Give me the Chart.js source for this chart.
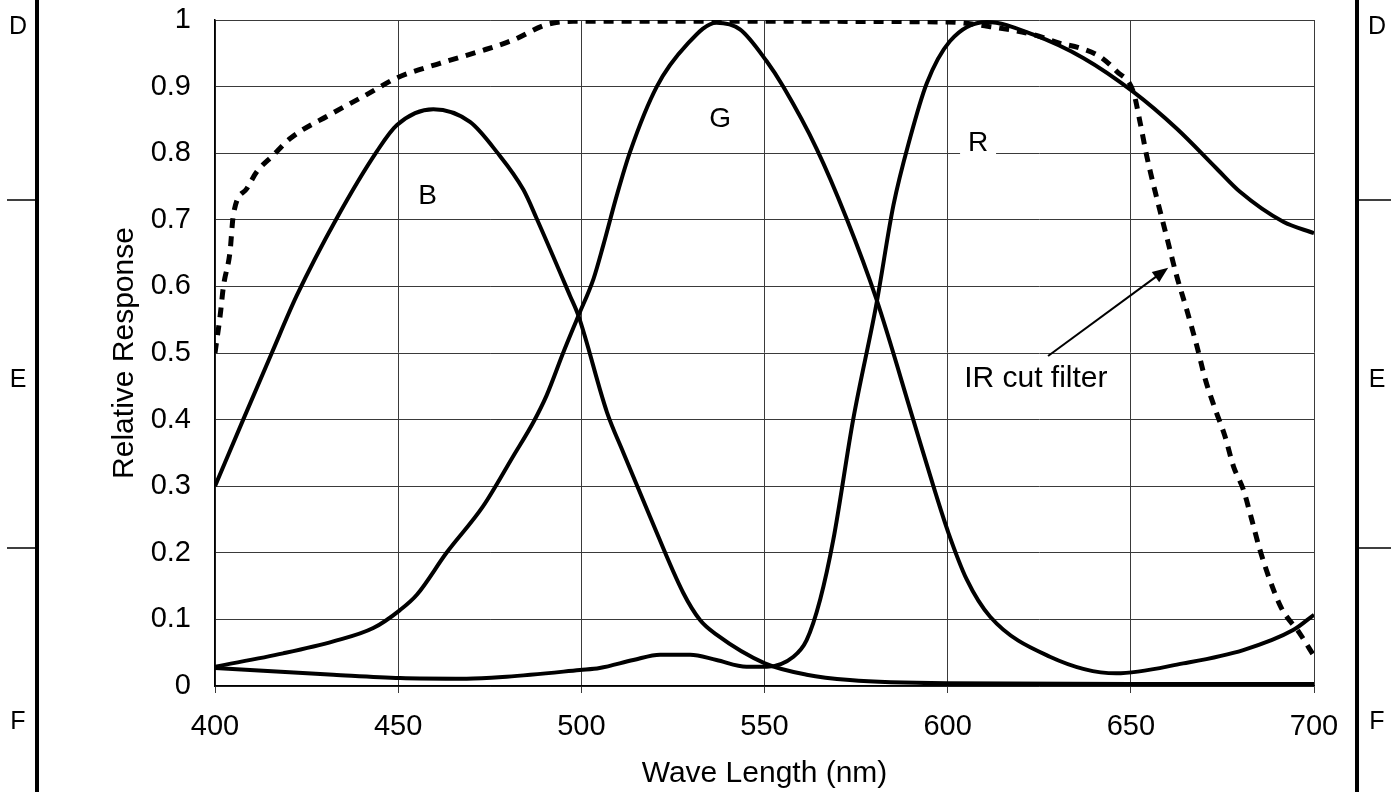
<!DOCTYPE html>
<html>
<head>
<meta charset="utf-8">
<script src="https://cdn.jsdelivr.net/npm/chart.js@4.4.1/dist/chart.umd.min.js"></script>
<style>
    html, body { margin: 0; padding: 0; background: #fff; }
    #contenedor { width: 1400px; height: 792px; position: relative; }
</style>
</head>
<body>
<div id="contenedor"><canvas id="grafico"></canvas></div>
<script>
// Datos: longitud de onda (nm) y respuesta relativa
const ondaB = [400, 407.7, 415.5, 422.3, 433.2, 444.1, 449.6, 459.6, 469.6, 476.9, 484.2, 487.8, 496.9, 499.2, 507, 511.5, 518.7, 527.8, 532.4, 536.9, 550.1, 561.5, 573.3, 599.7, 650, 700];
const respB = [0.30, 0.40, 0.50, 0.586, 0.702, 0.802, 0.842, 0.866, 0.847, 0.802, 0.745, 0.702, 0.586, 0.556, 0.411, 0.35, 0.255, 0.14, 0.099, 0.077, 0.034, 0.017, 0.009, 0.004, 0.003, 0.003];

const ondaG = [400, 418.6, 432.3, 443.2, 450.5, 455.1, 463.2, 473.2, 481.4, 486.9, 490.5, 495.1, 499.2, 503.3, 506, 509.7, 513.3, 520.6, 528.8, 536.9, 543.3, 550.6, 555.1, 564.2, 572.4, 580.6, 590.6, 596.1, 600.2, 605.2, 611.6, 627.9, 646, 664.3, 680.7, 694.3, 700];
const respG = [0.029, 0.049, 0.067, 0.087, 0.114, 0.137, 0.2, 0.27, 0.345, 0.396, 0.436, 0.501, 0.556, 0.611, 0.662, 0.737, 0.802, 0.9, 0.963, 0.996, 0.986, 0.938, 0.9, 0.807, 0.702, 0.58, 0.40, 0.30, 0.23, 0.16, 0.104, 0.044, 0.019, 0.034, 0.054, 0.084, 0.107];

const ondaR = [400, 432.3, 450.5, 468.7, 479.6, 499.6, 505, 514.2, 521.5, 529.7, 536.9, 545.1, 550.6, 557.9, 561.5, 565.2, 568.8, 574.2, 580.6, 585.2, 589.7, 594.3, 600.6, 610.7, 623.4, 637, 650.7, 662.5, 673.4, 679.8, 691.6, 700];
const respR = [0.027, 0.017, 0.012, 0.011, 0.014, 0.024, 0.027, 0.039, 0.047, 0.047, 0.039, 0.029, 0.029, 0.044, 0.069, 0.13, 0.22, 0.40, 0.575, 0.722, 0.822, 0.905, 0.968, 0.997, 0.978, 0.943, 0.892, 0.837, 0.777, 0.742, 0.697, 0.68];

const ondaIR = [400, 401.4, 402.3, 404.1, 405, 408.7, 411.4, 415.9, 420.5, 431.4, 441.4, 449.6, 461.4, 472.3, 481.4, 490.5, 497.8, 550, 600, 611.6, 623.4, 630.7, 636.1, 641.6, 646.1, 650.7, 652.5, 654.3, 656.2, 659.9, 662.5, 665.2, 668, 670.3, 673, 675.7, 678, 680.7, 683, 685.2, 687.9, 691.1, 696.1, 700];
const respIR = [0.5, 0.556, 0.60, 0.652, 0.707, 0.747, 0.772, 0.797, 0.822, 0.858, 0.888, 0.913, 0.935, 0.953, 0.97, 0.993, 0.998, 0.998, 0.997, 0.99, 0.978, 0.965, 0.958, 0.945, 0.923, 0.892, 0.847, 0.797, 0.752, 0.672, 0.616, 0.566, 0.511, 0.461, 0.416, 0.375, 0.33, 0.295, 0.25, 0.205, 0.16, 0.117, 0.079, 0.045];

// Etiquetas de los ejes
const etiquetasX = ['400', '450', '500', '550', '600', '650', '700'];
const etiquetasY = ['0', '0.1', '0.2', '0.3', '0.4', '0.5', '0.6', '0.7', '0.8', '0.9', '1'];

const fuente = '"Liberation Sans", Arial, sans-serif';

function puntos(xs, ys) {
    return xs.map((x, i) => ({ x: x, y: ys[i] }));
}

function serie(nombre, xs, ys, dash, ancho) {
    return {
        label: nombre,
        data: puntos(xs, ys),
        borderColor: '#000',
        borderWidth: ancho,
        borderDash: dash,
        pointRadius: 0,
        fill: false,
        showLine: true,
        cubicInterpolationMode: 'monotone'
    };
}

// Fondo blanco y marco lateral con letras D, E, F
const marco = {
    id: 'marco',
    beforeDraw(chart) {
        const c = chart.ctx;
        c.save();
        c.fillStyle = '#fff';
        c.fillRect(0, 0, chart.width, chart.height);
        c.restore();
    },
    afterDraw(chart) {
        const c = chart.ctx;
        c.save();
        c.strokeStyle = '#000';
        c.lineWidth = 4;
        c.beginPath();
        c.moveTo(37, 0); c.lineTo(37, chart.height);
        c.moveTo(1357, 0); c.lineTo(1357, chart.height);
        c.stroke();
        c.lineWidth = 1.5;
        c.beginPath();
        [200, 548].forEach(y => {
            c.moveTo(7, y); c.lineTo(37, y);
            c.moveTo(1357, y); c.lineTo(1391, y);
        });
        c.stroke();
        c.fillStyle = '#000';
        c.font = '25px ' + fuente;
        c.textAlign = 'center';
        c.textBaseline = 'middle';
        [['D', 27], ['E', 380], ['F', 722]].forEach(([t, y]) => {
            c.fillText(t, 18, y);
            c.fillText(t, 1377, y);
        });
        c.restore();
    }
};

// Nombres de las curvas y flecha del filtro IR (en unidades de los datos)
const notas = {
    id: 'notas',
    afterDatasetsDraw(chart) {
        const c = chart.ctx;
        const sx = chart.scales.x, sy = chart.scales.y;
        c.save();
        c.fillStyle = '#000';
        c.font = '28px ' + fuente;
        c.textAlign = 'center';
        c.textBaseline = 'middle';
        c.fillText('B', sx.getPixelForValue(458), sy.getPixelForValue(0.735));
        c.fillText('G', sx.getPixelForValue(537.9), sy.getPixelForValue(0.851));
        // la R tapa la línea de la cuadrícula
        const rx = sx.getPixelForValue(608.3), ry = sy.getPixelForValue(0.815);
        c.fillStyle = '#fff';
        c.fillRect(rx - 18, ry - 14, 36, 28);
        c.fillStyle = '#000';
        c.fillText('R', rx, ry);
        c.font = '30px ' + fuente;
        c.textAlign = 'left';
        c.fillText('IR cut filter', sx.getPixelForValue(604.5), sy.getPixelForValue(0.461));
        // flecha
        const x1 = sx.getPixelForValue(627.4), y1 = sy.getPixelForValue(0.4955);
        const x2 = sx.getPixelForValue(660.2), y2 = sy.getPixelForValue(0.628);
        const ang = Math.atan2(y2 - y1, x2 - x1);
        c.strokeStyle = '#000';
        c.lineWidth = 2;
        c.beginPath();
        c.moveTo(x1, y1);
        c.lineTo(x2 - 12 * Math.cos(ang), y2 - 12 * Math.sin(ang));
        c.stroke();
        c.beginPath();
        c.moveTo(x2, y2);
        c.lineTo(x2 - 17 * Math.cos(ang - 0.38), y2 - 17 * Math.sin(ang - 0.38));
        c.lineTo(x2 - 17 * Math.cos(ang + 0.38), y2 - 17 * Math.sin(ang + 0.38));
        c.closePath();
        c.fill();
        c.restore();
    }
};

const ctx = document.getElementById('grafico').getContext('2d');
const chart = new Chart(ctx, {
    type: 'scatter',
    data: {
        datasets: [
            serie('B', ondaB, respB, [], 4),
            serie('G', ondaG, respG, [], 4),
            serie('R', ondaR, respR, [], 4),
            serie('IR cut filter', ondaIR, respIR, [10, 8], 5)
        ]
    },
    options: {
        responsive: true,
        maintainAspectRatio: false,
        devicePixelRatio: 1,
        animation: false,
        events: [],
        layout: { padding: { left: 0, top: 2, right: 86, bottom: 0 } },
        plugins: {
            legend: { display: false },
            tooltip: { enabled: false }
        },
        scales: {
            x: {
                type: 'linear',
                min: 400,
                max: 700,
                afterFit: s => { s.height = 106; },
                ticks: {
                    stepSize: 50,
                    padding: 17,
                    color: '#000',
                    font: { family: fuente, size: 29 },
                    callback: (v, i) => etiquetasX[i]
                },
                grid: { color: '#3a3a3a', lineWidth: 1, tickLength: 7 },
                border: { color: '#000', width: 1.5 },
                title: {
                    display: true,
                    text: 'Wave Length (nm)',
                    color: '#000',
                    font: { family: fuente, size: 30 },
                    padding: { top: 0, bottom: 0 }
                }
            },
            y: {
                type: 'linear',
                min: 0,
                max: 1,
                // ancho fijo y sin el relleno extra que suma el padding de las marcas
                afterFit: s => { s.width = 215; s.paddingTop = 20; s.paddingBottom = 0; },
                ticks: {
                    stepSize: 0.1,
                    padding: 24,
                    color: '#000',
                    font: { family: fuente, size: 29 },
                    callback: (v, i) => etiquetasY[i]
                },
                grid: { color: '#3a3a3a', lineWidth: 1, drawTicks: false },
                border: { color: '#000', width: 1.5 },
                title: {
                    display: true,
                    text: 'Relative Response',
                    color: '#000',
                    font: { family: fuente, size: 30 },
                    padding: { top: 107, bottom: 0 }
                }
            }
        }
    },
    plugins: [marco, notas]
});
</script>
</body>
</html>
